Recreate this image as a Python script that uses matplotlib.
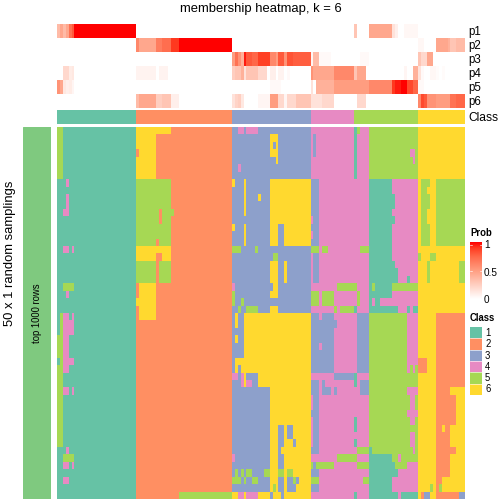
import matplotlib
matplotlib.use("Agg")
import numpy as np
import matplotlib.pyplot as plt
from matplotlib.colors import ListedColormap, LinearSegmentedColormap, BoundaryNorm
from matplotlib.patches import Rectangle

plt.rcParams['font.family'] = ['Liberation Sans', 'DejaVu Sans']

class_colors = ['#66C2A5', '#FF8F62', '#8DA0CB', '#E78AC3', '#A6D854', '#FFD92F']
class_labels = ['1', '2', '3', '4', '5', '6']
class_sizes = [27, 33, 27, 15, 22, 16]
prob_names = ['p1', 'p2', 'p3', 'p4', 'p5', 'p6']

p1 = [.35, .45, .35, .45, .7, .8] + [1] * 21 + [0] * 33 + [0] * 27 + [0] * 15 + \
     [.3, 0, 0, 0, 0] + [.45] * 8 + [.15, .08, 0, 0, .04, .04, .04, .04, .04] + [0] * 16
p2 = [0] * 27 + [.6] + [.45] * 6 + [.65] * 2 + [.72] * 3 + [.9] * 3 + [1] * 18 + [0] * 27 + [0] * 15 + [0] * 22 + \
     [.04, .04, 0, 0, 0, 0, .45, .45, .45, .45, .4, .3, .3, .35, .35, .35]
p3 = [0] * 27 + [0] * 33 + \
     [.5, .7, .55, .4, .95, .8, .8, .75, .75, .88, .88, .88, .88, .6, .6, .5, .8, .8, .55, .82, .82, .78, .78, .78, .78, .78, .78] + \
     [.05, .35, .35, .03, .03, .03, .03, 0, 0, 0, 0, 0, 0, 0, 0] + \
     [0, 0, .03, .03, .03] + [0] * 17 + \
     [.3, .2, .2, .45, .45] + [0] * 11
p4 = [0, 0, .2, .2, .1, .12] + [0] * 21 + [.06] * 7 + [0] + [.06] * 3 + [0] * 22 + \
     [.25, .3, .3, .4, .15, .3, .3, .3, .3, .2, .2, .2, 0, .08, .08, 0, .06, .06, 0, .03, 0, 0, 0, 0, 0, 0, 0] + \
     [.55, .45, .45, .45, .45, .45, .45, .45, .6, .6, .6, .6, .6, .6, .6] + \
     [.3, .45, .45, .45] + [0] * 13 + [.05, 0, 0, .4, .4] + [.15] + \
     [.03, 0, 0, .04, .04, .02, 0, .02] + [0] * 8
p5 = [.55, .45, .12, .08, .1, .05] + [0] * 21 + [0] * 33 + \
     [0] * 13 + [.03, .03, .03, .03] + [0] * 10 + \
     [.15, 0, .4, .4, .4, .4, .4, .4, .5, .5, .5, .5, .5, .5, .5] + \
     [.5] * 5 + [.6] * 8 + [.9, .95, .95, 1, 1, .85, .85, .75, .75] + \
     [.03, .03] + [0] * 14
p6 = [0] * 27 + [.35] + [.45] * 6 + [.25] * 2 + [.3] * 3 + [.08] * 3 + [0] * 18 + \
     [.15, .22, .25, .12, 0, 0, 0, 0, 0, .05, .05, .05, .05, .5, .5, .5, .2, .2, .05, .2, .2, .2, .3, .3, .3, .3, .3] + \
     [.15] * 4 + [.2] * 4 + [0] * 7 + \
     [0, .2, .2, .2] + [0] * 18 + \
     [.6, .85, .8, .55, .55, .55, .5, .5, .5, .5, .5, .7, .7, .75, .75, .75]

block1 = ["5*2 1"] * 7 + ["1*3 4 1", "1", "1*3 4 1", "1*3 4 1", "1*2 4*2 1", "1", "1", "1", "1",
          "1*2 4*2 1 4 1", "1", "1", "1", "1", "1*2 5*4 1", "1*3 4 1", "1", "1",
          "1 5 4*2 1 4 1", "1 5 4*4 1", "1 5 4*4 1", "5*2 4*2 1", "5*2 4*2 1", "5*2 4*2 1",
          "1 5 4*4 1", "5*2 4*2 1", "5*2 1", "5*2 1", "5*2 4*2 1 4 1"] + ["5*2 1"] * 7 + \
         ["1*3 4 1", "1*2 5*4 1", "1*2 4*2 1 4 1", "1", "1*2 4*2 1", "1", "1"]

block2 = ["6*12 2", "6*7 2", "6*7 2", "2 6*6 2", "6*7 2", "6*7 2", "6*7 2",
          "5*12 2", "5*12 2", "5*12 2", "5*12 2", "5*8 2 5*4 2", "5*8 2 5*3 2", "5*12 2", "5*12 2",
          "5*7 2 5*4 2", "6*12 2", "6*7 2*2 6*3 2", "5*7 2 5*4 2", "5*7 2 5*4 2", "5*7 2 5*4 2",
          "2 6*6 2", "2 6*6 2", "6*7 2", "2 6*6 2", "2 6*6 2"] + ["2"] * 23 + ["2*15 5"]

block3 = ["3*2 4*2 3 4*4 3", "3*13 6*3 3", "3*13 6 3 6 3", "3*13 6*3 3", "3*15 6 3", "3*2 4 3", "3",
          "6 3*3 6 3*8 6", "3*4 6 3*8 6", "3*4 6 3*4 6 3*3 6", "3*4 6 3*8 6", "3*4 6 3*8 6", "3*13 6",
          "6 3*3 6 3*8 6*3 3*2 6", "3*4 6 3*8 6*3 3*2 6", "3*4 6 3*8 6*3 3*2 6",
          "5*3 3*5 5 3", "3*14 5*2 3", "3*13 6*3 3*2 6 3", "3*13 6*3 3*2 6 3", "3*13 6*3 3*2 6 3",
          "4 3*13 6*2 3", "5 3*12 6*3 3", "5 3*2 5 3", "3*2 5 3*2 5*4 3*4 6*3 3",
          "3 6 3*2 6", "3 6 3*2 6", "3*4 6", "3 6 3*2 6", "3*4 6", "3*4 6", "3 6", "3 6 3 6",
          "4*2 3 4 6 3*4 6", "3*3 4 6 4*2 3*2 6",
          "3*13 6", "3*13 6", "3*13 6", "3*13 6", "3*13 6",
          "3*13 6*3 3*2 6 3*2 6", "3*13 6*3 3*2 6 3*2 6", "3*13 6*3 3*2 6*3 3 6", "3*13 6*3 3 6",
          "4 3*12 6*3 3*2 6", "3*13 6*3 3*2 6",
          "3 5 3 5 3 5*2 3*4 5*2 6*3 5*2 6 5*2 6",
          "5*3 3 5 3*2 5*2 3*4 6*3 3*2 6 3*2 5 3 6",
          "3*13 6 5 6 3*2 6 3*3 6",
          "6*2 4*2 6 4*4 6*4 3 6*3 3 6"]

block4 = ["4*15 1 5 4", "4 3 4*13 1 4", "4 3 4*13 1 4", "4 3 4*13 1 4", "4*15 1 4", "4*15 1 4", "4*15 1 4",
          "3*3 4", "3*3 4", "3*3 4", "3*3 4", "3*3 4", "4 3*2 4", "3*3 4", "4 3*2 4", "3*3 4",
          "5*3 4 5*2 4*11 5", "4 3*2 4", "4 3*2 4", "4 3*2 4", "4 3*2 4", "4*9 5*7 4",
          "5*3 4 5*4 4*8 5 4", "5*3 4 5*4 4*8 5 4", "4*8 5 4 5*5 1 4",
          "3*3 4 3*4 4*8 3", "3*9 4*7 3", "3*8 4*8 3", "3*8 4*8 3", "3*3 4 3*4 4*8 3",
          "3*8 4*8 3", "3*8 4*8 3", "3*8 4*8 3", "4*8 3*7 1 4", "3*3 4 3 4*10 1 4 3",
          "3*3 4 3*3 4 3 4*8 3", "4 3*2 4", "4 3*2 4", "3*3 4", "4 3*2 4*12 1 4", "4 3*2 4*12 1 4",
          "4 3*2 4", "4 3*2 4*12 1 4", "3*3 4*13 5", "4*9 5*7 4", "5 3 5*6 4*8 5", "3*3 4",
          "5*3 4*15 5", "3*3 4", "4*15 1 4"]

block5 = ["5", "5", "5", "5*14 4*2 5", "5*15 4 5", "5", "5", "1*8 4", "1*8 4", "1*9 4", "1*9 4", "1*8 4", "1*9 4",
          "1*8 4", "1*8 4", "1*8 4", "1*8 4", "1*8 4", "1*9 4", "1*10 4", "1*10 4*3 1 4",
          "1 5 1*6 5", "1*8 4", "1 4 1*2 4", "1*10 4*3 1 4 1"] + ["5*13 4"] * 7 + \
         ["5*13 4 5 4 5", "5", "5", "5*13 4", "5*14 4*2 5", "5*14 4*2 5", "5*13 4", "5*14 4*2 5", "5",
          "5*14 4*2 5", "5*14 4*2 5", "1 5*14 4 5", "1*8 5*2 4 5", "1*9 5*4 4", "1*10 4", "1*8 4", "1*8 4",
          "1*10 4 1"]

block6 = ["6"] * 7 + ["6 5*3 6*2 5", "6 5*2 6*3 5", "6 5*3 6*2 5", "6 5*3 6*2 5", "6 5*2 6*3 5", "6 5*2 6*3 5",
          "6 5*3 6*2 5", "6 5*3 6*2 5", "6 5*3 6*2 5", "6", "5 6*3 5*2 6",
          "6*3 5 6*10 5", "6*3 5 6*10 5", "6*3 5 6*10 5", "6", "6", "6", "6"] + ["6*6 2"] * 6 + \
         ["2*3 6*3 2", "2*3 6*3 2", "6*6 2", "6*6 2", "6*6 2*5 6"] + ["6*6 2*7 6"] * 4 + \
         ["6*6 2*2 6 2*2 6", "6*6 2*5 6", "6*6 2*5 6", "6*6 2*7 6", "6*6 2*5 6", "6*6 2*5 6", "6*6 2*5 6",
          "6*6 2*2 6", "6*4 5 6 2 5 6", "6 2 3*2 6*2 2*8 3"]

block_widths = [27, 33, 27, 20, 17, 16]


def decode(row, n):
    out = []
    for tok in row.split():
        c, _, k = tok.partition('*')
        out += [int(c)] * (int(k) if k else 1)
    out += [out[-1]] * n
    return out[:n]


blocks = [block1, block2, block3, block4, block5, block6]
matrix = np.array([sum((decode(b[r], w) for b, w in zip(blocks, block_widths)), [])
                   for r in range(50)])
probs = np.array([(list(p) + [0] * 140)[:140] for p in (p1, p2, p3, p4, p5, p6)], dtype=float)
top_class = np.repeat(np.arange(1, 7), class_sizes)[None, :]

W = H = 504
fig = plt.figure(figsize=(7, 7), dpi=72, facecolor='white')


def box(x0, y0, x1, y1):
    ax = fig.add_axes([x0 / W, 1 - y1 / H, (x1 - x0) / W, (y1 - y0) / H])
    ax.set_axis_off()
    return ax


def label(x, y, s, **kw):
    kw.setdefault('va', 'center')
    fig.text(x / W, 1 - y / H, s, **kw)


ccmap = ListedColormap(class_colors)
cnorm = BoundaryNorm(np.arange(0.5, 7.5), 6)
pcmap = LinearSegmentedColormap.from_list(
    'prob', [(0, '#FFFFFF'), (.25, '#FFCFC1'), (.5, '#FF9E81'), (.75, '#FF6849'), (.9, '#FF3B20'), (1, '#FF0000')])

ax = box(57, 24, 465, 108)
ax.imshow(probs, aspect='auto', cmap=pcmap, vmin=0, vmax=1, interpolation='nearest')
for i, name in enumerate(prob_names):
    label(468, 32 + 14 * i, name, fontsize=11.5, color='black')

ax = box(57, 110, 465, 124)
ax.imshow(top_class, aspect='auto', cmap=ccmap, norm=cnorm, interpolation='nearest')
label(468, 117.5, 'Class', fontsize=12)

ax = box(57, 127, 465, 499)
ax.imshow(matrix, aspect='auto', cmap=ccmap, norm=cnorm, interpolation='nearest')

ax = box(23, 127, 51, 499)
ax.add_patch(Rectangle((0, 0), 1, 1, color='#7FC97F', transform=ax.transAxes))
label(37.5, 313, 'top 1000 rows', fontsize=9.5, rotation=90, ha='center')
label(10, 253, '50 x 1 random samplings', fontsize=13, rotation=90, ha='center')
label(261, 9, 'membership heatmap, k = 6', fontsize=13, ha='center')

# Prob legend
label(470, 233.5, 'Prob', fontsize=9.5, fontweight='bold')
ax = box(470, 242, 482, 299)
ax.imshow(np.linspace(1, 0, 200)[:, None], aspect='auto', cmap=pcmap, vmin=0, vmax=1)
for frac in (0.05, 0.5):
    ax.axhline(199 * frac, color='white', lw=0.6, xmin=0, xmax=0.2)
    ax.axhline(199 * frac, color='white', lw=0.6, xmin=0.8, xmax=1)
for s, y in (('1', 245), ('0.5', 273), ('0', 300)):
    label(484, y, s, fontsize=10)

# Class legend
label(470, 318, 'Class', fontsize=9.5, fontweight='bold')
ax = box(470, 327, 482, 395)
ax.imshow(np.arange(1, 7)[:, None], aspect='auto', cmap=ccmap, norm=cnorm, interpolation='nearest')
for i in range(1, 6):
    ax.axhline(i - 0.5, color='white', lw=0.6)
for i, s in enumerate(class_labels):
    label(485, 333 + 11.3 * i, s, fontsize=9.5)

fig.savefig('out.png', dpi=72)
